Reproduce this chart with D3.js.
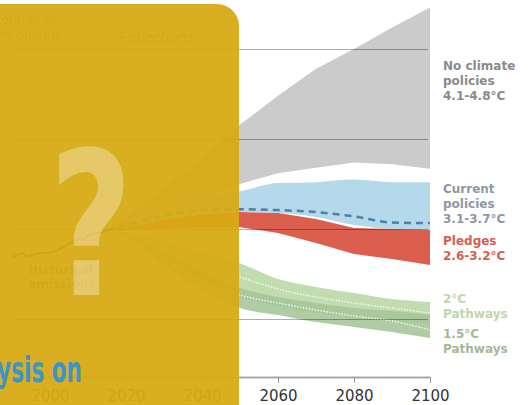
<!DOCTYPE html>
<html>
<head>
<script src="https://d3js.org/d3.v7.min.js"></script>
<style>
    body, html {
        margin: 0;
        padding: 0;
        background: #ffffff;
        overflow: hidden;
        font-family: "DejaVu Sans", sans-serif;
    }
    svg {
        display: block;
    }
    .legend {
        font-weight: bold;
        font-size: 12px;
    }
    .xaxis text {
        font-family: "DejaVu Sans", sans-serif;
        font-size: 15px;
        fill: #333333;
    }
</style>
</head>
<body>
<div id="chart"></div>
<script>

/* DATA (gigatonnes of CO2) */
const histYears  = [1990, 1992, 1993, 1994, 1996, 1998, 2000, 2002, 2004, 2006, 2008, 2009, 2010, 2012, 2014, 2015];
const histValues = [34.4, 36, 36.5, 35, 36, 36.5, 37, 38.3, 40.5, 43, 45, 44.5, 46.5, 47.5, 48.5, 49.5];

const projYears      = [2015, 2020, 2030, 2040, 2050, 2060, 2070, 2080, 2090, 2100];
const noPolicyHigh   = [49.5, 56, 73, 89, 108, 124, 139, 150, 162, 173];
const noPolicyLow    = [49.5, 51, 58, 67, 75, 81, 84, 87, 86, 83.5];
const currentHigh    = [49.5, 53, 61, 67, 71, 75.5, 76, 77.5, 76, 76];
const currentLow     = [49.5, 50.5, 55, 58, 59.4, 58.9, 56.7, 52.2, 50, 49.4];
const currentMid     = [49.5, 52, 57.5, 60.5, 61, 60.5, 59.4, 57, 53.6, 53.3];
const pledgesHigh    = [49.5, 50.5, 55, 58, 59.4, 58.9, 55.6, 50.6, 50, 49.4];
const pledgesLow     = [49.5, 49.5, 50, 51, 51, 47.8, 42.2, 36.1, 33.3, 30];
const twoHigh        = [49.5, 48.5, 43, 37, 31, 22.2, 17.8, 14.4, 11.1, 9.4];
const twoLow         = [49.5, 46, 34, 22, 12, 7, 3.5, 1, -1, -3];
const twoMid         = [49.5, 47.5, 40, 30.5, 23.3, 16.7, 12.2, 8.9, 6.1, 3.3];
const onefiveHigh    = [49.5, 47, 37, 26, 17.2, 12.2, 8.9, 6.1, 4.4, 2.5];
const onefiveLow     = [49.5, 45, 30, 16, 6.1, 2.2, -1.7, -4.4, -7.2, -10.6];
const onefiveMid     = [49.5, 46, 33.5, 21, 13.3, 8.9, 5, 1.7, -1.1, -6.1];

const gridValues = [0, 50, 100, 150];
const tickYears  = [2000, 2020, 2040, 2060, 2080, 2100];
const projStart  = 2015;

const width = 528;
const height = 405;

const svg = d3.select("#chart")
    .append("svg")
    .attr("width", width)
    .attr("height", height);

const x = d3.scaleLinear().domain([1990, 2100]).range([12, 430]);
const y = d3.scaleLinear().domain([0, 150]).range([319, 49]);

function rows(hi, lo) {
    return projYears.map((yr, i) => ({year: yr, hi: hi[i], lo: lo[i]}));
}

const area = d3.area()
    .x(d => x(d.year))
    .y0(d => y(d.lo))
    .y1(d => y(d.hi))
    .curve(d3.curveMonotoneX);

const areaStraight = d3.area()
    .x(d => x(d.year))
    .y0(d => y(d.lo))
    .y1(d => y(d.hi));

const line = d3.line()
    .x(d => x(d[0]))
    .y(d => y(d[1]))
    .curve(d3.curveMonotoneX);

/* BANDS */
const bands = svg.append("g");
bands.append("path").attr("d", areaStraight(rows(noPolicyHigh, noPolicyLow))).attr("fill", "#cbcbcb");
bands.append("path").attr("d", area(rows(currentHigh, currentLow))).attr("fill", "#b3d9ea");
bands.append("path").attr("d", areaStraight(rows(pledgesHigh, pledgesLow))).attr("fill", "#dc5e4e");
bands.append("path").attr("d", area(rows(twoHigh, twoLow))).attr("fill", "#c1dcae");
bands.append("path").attr("d", area(rows(onefiveHigh, onefiveLow))).attr("fill", "#a6c69a").attr("fill-opacity", 0.9);

// white dotted centre lines of the pathways
[twoMid, onefiveMid].forEach(vals => {
    bands.append("path")
        .attr("d", line(projYears.map((yr, i) => [yr, vals[i]])))
        .attr("fill", "none")
        .attr("stroke", "#ffffff")
        .attr("stroke-width", 1.4)
        .attr("stroke-opacity", 0.85)
        .attr("stroke-dasharray", "1.5 1.5");
});

// current policies median
bands.append("path")
    .attr("d", line(projYears.map((yr, i) => [yr, currentMid[i]])))
    .attr("fill", "none")
    .attr("stroke", "#4f80ab")
    .attr("stroke-width", 2.5)
    .attr("stroke-dasharray", "7 5");

/* GRIDLINES */
svg.append("g")
    .attr("transform", `translate(${x.range()[0]},0)`)
    .call(d3.axisLeft(y).tickValues(gridValues).tickSize(-(428 - x.range()[0])).tickFormat(""))
    .call(g => g.select(".domain").remove())
    .selectAll("line")
    .attr("stroke", "#000")
    .attr("stroke-opacity", 0.32);

// projections divider
svg.append("line")
    .attr("x1", x(projStart)).attr("x2", x(projStart))
    .attr("y1", 27).attr("y2", 377)
    .attr("stroke", "#000").attr("stroke-opacity", 0.15);

/* HISTORICAL */
svg.append("path")
    .attr("d", line(histYears.map((yr, i) => [yr, histValues[i]])))
    .attr("fill", "none")
    .attr("stroke", "#555")
    .attr("stroke-width", 2);

const histLabel = svg.append("text")
    .attr("x", 28).attr("y", 274)
    .attr("font-weight", "bold").attr("font-size", 12)
    .attr("fill", "#888");
histLabel.append("tspan").attr("x", 28).text("Historical");
histLabel.append("tspan").attr("x", 28).attr("dy", 14).text("emissions");

/* TITLES */
svg.append("text").attr("x", 57).attr("y", 24).attr("text-anchor", "end")
    .attr("font-size", 13).attr("fill", "#888").text("Gigatonnes of");
svg.append("text").attr("x", 63).attr("y", 39).attr("text-anchor", "end")
    .attr("font-size", 13).attr("fill", "#888").text("carbon dioxide");
svg.append("text").attr("x", 119).attr("y", 42)
    .attr("font-size", 13.5).attr("font-style", "italic").attr("fill", "#888").text("Projections");

/* X AXIS */
const xAxis = svg.append("g")
    .attr("class", "xaxis")
    .attr("transform", "translate(0,377)")
    .call(d3.axisBottom(x).tickValues(tickYears).tickSize(6).tickSizeOuter(0).tickPadding(7).tickFormat(d3.format("d")));
xAxis.select(".domain").attr("stroke", "#aaaaaa").attr("stroke-width", 2);
xAxis.selectAll(".tick line").attr("stroke", "#999999");

/* LEGEND */
const legend = [
    {lines: ["No climate", "policies", "4.1-4.8°C"], y: 70, color: "#8a8a8a"},
    {lines: ["Current", "policies", "3.1-3.7°C"], y: 193, color: "#8e97a2"},
    {lines: ["Pledges", "2.6-3.2°C"], y: 245, color: "#d95d4d"},
    {lines: ["2°C", "Pathways"], y: 303, color: "#bcd8a9"},
    {lines: ["1.5°C", "Pathways"], y: 338, color: "#a2b997"}
];
legend.forEach(item => {
    const t = svg.append("text")
        .attr("class", "legend")
        .attr("x", 443).attr("y", item.y)
        .attr("fill", item.color);
    item.lines.forEach((s, i) => {
        t.append("tspan").attr("x", 443).attr("dy", i === 0 ? 0 : 14.8).text(s);
    });
});

/* OVERLAY CARD */
svg.append("rect")
    .attr("x", -40).attr("y", 4)
    .attr("width", 279).attr("height", 460)
    .attr("rx", 22)
    .attr("fill", "rgb(215,170,19)")
    .attr("fill-opacity", 0.94);

svg.append("text")
    .attr("transform", "translate(91,295) scale(0.72,1)")
    .attr("text-anchor", "middle")
    .attr("font-weight", "bold")
    .attr("font-size", 200)
    .attr("fill", "#ffffff")
    .attr("fill-opacity", 0.32)
    .text("?");

svg.append("text")
    .attr("transform", "translate(82,382) scale(0.6,1)")
    .attr("text-anchor", "end")
    .attr("font-weight", "bold")
    .attr("font-size", 36)
    .attr("fill", "#3d95c6")
    .text("Analysis on");

</script>
</body>
</html>
